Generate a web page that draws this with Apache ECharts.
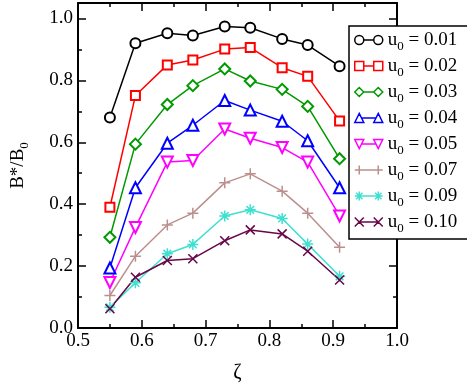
<!DOCTYPE html>
<html>
<head>
<meta charset="utf-8">
<script src="https://cdn.jsdelivr.net/npm/echarts@6/dist/echarts.min.js"></script>
<style>
  html, body { margin: 0; padding: 0; background: #fff; }
  #main { width: 467px; height: 388px; }
</style>
</head>
<body>
<div id="main"></div>
<script>
// zeta positions (same for every curve)
const zeta = [0.55, 0.59, 0.64, 0.68, 0.73, 0.77, 0.82, 0.86, 0.91];

// u0 values shown in the legend
const u0Labels = ['0.01', '0.02', '0.03', '0.04', '0.05', '0.07', '0.09', '0.10'];

// B*/B0 for each u0
const b001 = [0.68, 0.92, 0.952, 0.945, 0.974, 0.970, 0.934, 0.914, 0.846];
const b002 = [0.39, 0.751, 0.850, 0.866, 0.901, 0.906, 0.841, 0.813, 0.669];
const b003 = [0.293, 0.594, 0.722, 0.783, 0.837, 0.798, 0.771, 0.716, 0.547];
const b004 = [0.194, 0.453, 0.597, 0.655, 0.735, 0.704, 0.668, 0.605, 0.453];
const b005 = [0.147, 0.325, 0.536, 0.541, 0.643, 0.613, 0.583, 0.536, 0.362];
const b007 = [0.105, 0.232, 0.333, 0.371, 0.469, 0.498, 0.442, 0.371, 0.261];
const b009 = [0.067, 0.146, 0.240, 0.270, 0.362, 0.382, 0.354, 0.271, 0.167];
const b010 = [0.062, 0.164, 0.218, 0.224, 0.282, 0.317, 0.304, 0.248, 0.155];

const yMajor = [0, 0.2, 0.4, 0.6, 0.8, 1.0];
const yMinor = [0.1, 0.3, 0.5, 0.7, 0.9];

const FONT = 'Liberation Serif';
const colors = ['#000000', '#ff0000', '#009a00', '#0000ff', '#ff00ff', '#bc8f8f', '#40e0d0', '#670748'];
const allData = [b001, b002, b003, b004, b005, b007, b009, b010];

// marker per curve
const symbols = [
  { symbol: 'emptyCircle', size: 10 },
  { symbol: 'emptyRect', size: 9 },
  { symbol: 'emptyDiamond', size: 11 },
  { symbol: 'emptyTriangle', size: 11 },
  { symbol: 'emptyTriangle', size: 11, rotate: 180 },
  { symbol: 'path://M0,5 H10 M5,0 V10', size: 11 },
  { symbol: 'path://M0,5 H10 M5,0 V10 M1.5,1.5 L8.5,8.5 M1.5,8.5 L8.5,1.5', size: 11 },
  { symbol: 'path://M0,0 L10,10 M0,10 L10,0', size: 9 }
];

// legend icons: marker - line - marker
const legendIcons = [
  'path://M0,4.5 A4.5,4.5 0 1,1 9,4.5 A4.5,4.5 0 1,1 0,4.5 Z M9,4.5 L19,4.5 M19,4.5 A4.5,4.5 0 1,1 28,4.5 A4.5,4.5 0 1,1 19,4.5 Z',
  'path://M0,0 H9 V9 H0 Z M9,4.5 H19 M19,0 H28 V9 H19 Z',
  'path://M0,4.5 L4.5,0 L9,4.5 L4.5,9 Z M9,4.5 H19 M19,4.5 L23.5,0 L28,4.5 L23.5,9 Z',
  'path://M0,9 L4.5,0 L9,9 Z M6.75,4.5 H21.25 M19,9 L23.5,0 L28,9 Z',
  'path://M0,0 L9,0 L4.5,9 Z M6.75,4.5 H21.25 M19,0 L28,0 L23.5,9 Z',
  'path://M0,4.5 H28 M4.5,0 V9 M23.5,0 V9',
  'path://M0,4.5 H28 M4.5,0 V9 M23.5,0 V9 M1.3,1.3 L7.7,7.7 M1.3,7.7 L7.7,1.3 M20.3,1.3 L26.7,7.7 M20.3,7.7 L26.7,1.3',
  'path://M0,0 L9,9 M0,9 L9,0 M4.5,4.5 H23.5 M19,0 L28,9 M19,9 L28,0'
];

const richText = {
  a: { fontFamily: FONT, fontSize: 19, color: '#000', lineHeight: 20 },
  s: { fontFamily: FONT, fontSize: 13, color: '#000', verticalAlign: 'top', padding: [10, 0, 0, 0], lineHeight: 1 }
};

const series = allData.map((vals, i) => ({
  name: u0Labels[i],
  type: 'line',
  xAxisIndex: 0,
  yAxisIndex: 0,
  data: zeta.map((z, k) => [z, vals[k]]),
  symbol: symbols[i].symbol,
  symbolSize: symbols[i].size,
  symbolRotate: symbols[i].rotate || 0,
  showAllSymbol: true,
  lineStyle: { color: colors[i], width: 1.5 },
  itemStyle: { color: colors[i], borderColor: colors[i], borderWidth: 1.5 },
  emphasis: { disabled: true },
  animation: false
}));

const chart = echarts.init(document.getElementById('main'));

const axisCommon = {
  type: 'value',
  splitLine: { show: false },
  axisLine: { show: true, onZero: false, lineStyle: { color: '#000', width: 2 } }
};

chart.setOption({
  animation: false,
  backgroundColor: '#fff',
  grid: { left: 68, right: 70, top: 3, bottom: 58 },
  legend: {
    orient: 'vertical',
    left: 349,
    top: 26,
    itemWidth: 28,
    itemHeight: 9,
    itemGap: 3,
    padding: [4, 12, 4, 5],
    borderColor: '#000',
    borderWidth: 1.5,
    borderRadius: 0,
    backgroundColor: '#fff',
    selectedMode: false,
    data: u0Labels.map((n, i) => ({
      name: n,
      icon: legendIcons[i],
      itemStyle: { color: '#fff', borderColor: colors[i], borderWidth: 1.5 }
    })),
    formatter: n => '{a|u}{s|0}{a| = ' + n + '}',
    textStyle: { fontFamily: FONT, fontSize: 19, color: '#000', rich: richText }
  },
  xAxis: [
    Object.assign({}, axisCommon, {
      position: 'bottom',
      min: 0.5, max: 1.0, interval: 0.1,
      axisTick: { inside: true, length: 8, lineStyle: { color: '#000', width: 1.5 } },
      minorTick: { show: true, splitNumber: 2, length: 4, lineStyle: { color: '#000', width: 1.5 } },
      axisLabel: { fontFamily: FONT, fontSize: 19, color: '#000', margin: 4, formatter: v => v.toFixed(1) },
      name: 'ζ',
      nameLocation: 'middle',
      nameGap: 35,
      nameTextStyle: { fontFamily: FONT, fontSize: 20, color: '#000' }
    }),
    Object.assign({}, axisCommon, {
      position: 'top',
      min: 0.5, max: 1.0, interval: 0.1,
      axisTick: { inside: true, length: 8, lineStyle: { color: '#000', width: 1.5 } },
      minorTick: { show: true, splitNumber: 2, length: 4, lineStyle: { color: '#000', width: 1.5 } },
      axisLabel: { show: false }
    })
  ],
  yAxis: [
    Object.assign({}, axisCommon, {
      position: 'left',
      min: 0, max: 1.05,
      axisTick: { inside: true, length: 8, customValues: yMajor, lineStyle: { color: '#000', width: 1.5 } },
      axisLabel: { fontFamily: FONT, fontSize: 19, color: '#000', margin: 5, customValues: yMajor, formatter: v => v.toFixed(1) },
      name: '{a|B*/B}{s|0}',
      nameLocation: 'middle',
      nameGap: 50,
      nameTextStyle: { fontFamily: FONT, fontSize: 19, color: '#000', rich: richText }
    }),
    Object.assign({}, axisCommon, {
      position: 'left',
      min: 0, max: 1.05,
      axisLine: { show: false },
      axisTick: { inside: true, length: 4, customValues: yMinor, lineStyle: { color: '#000', width: 1.5 } },
      axisLabel: { show: false }
    }),
    Object.assign({}, axisCommon, {
      position: 'right',
      min: 0, max: 1.05,
      axisTick: { inside: true, length: 8, customValues: yMajor, lineStyle: { color: '#000', width: 1.5 } },
      axisLabel: { show: false }
    }),
    Object.assign({}, axisCommon, {
      position: 'right',
      min: 0, max: 1.05,
      axisLine: { show: false },
      axisTick: { inside: true, length: 4, customValues: yMinor, lineStyle: { color: '#000', width: 1.5 } },
      axisLabel: { show: false }
    })
  ],
  series: series
});
</script>
</body>
</html>
